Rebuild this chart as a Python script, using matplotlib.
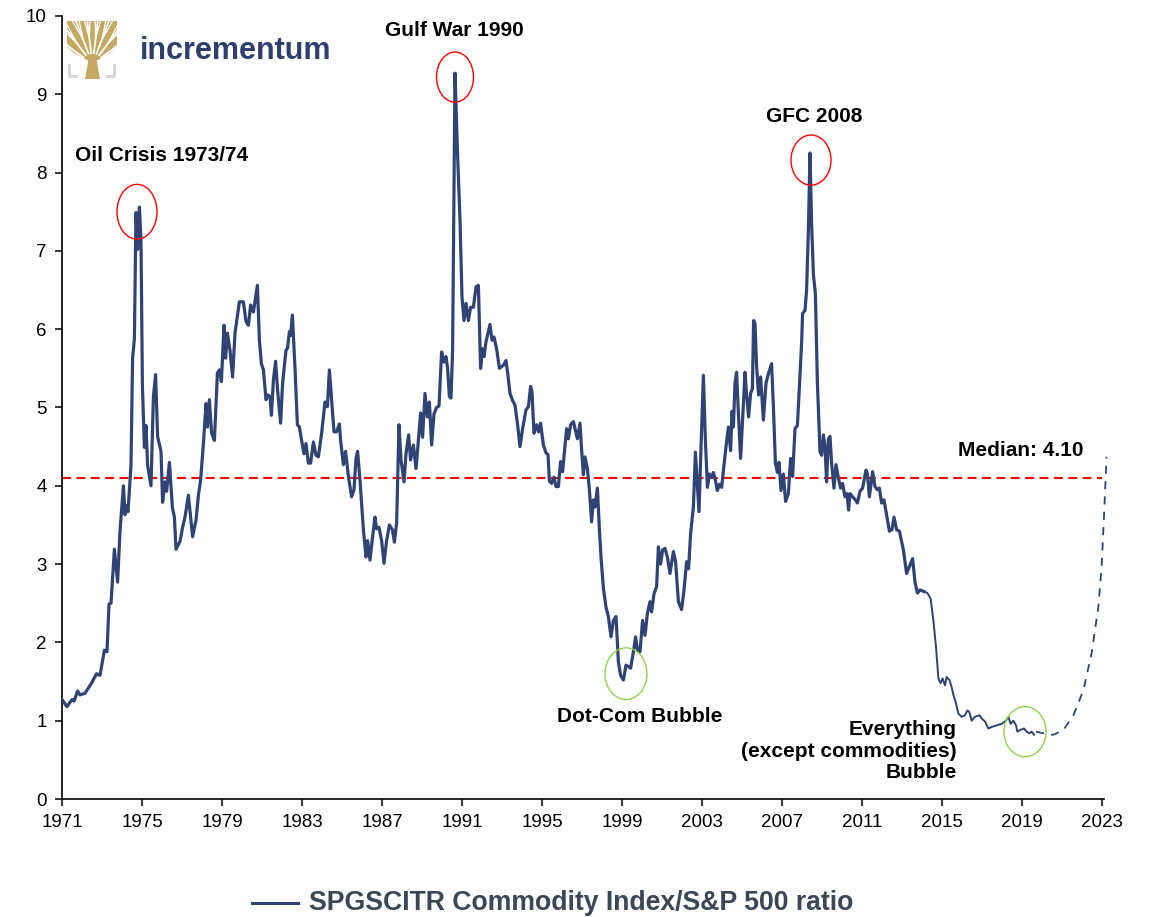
import matplotlib
matplotlib.use("Agg")
import numpy as np
import matplotlib.pyplot as plt
from matplotlib.patches import Ellipse, Polygon
from matplotlib.lines import Line2D

plt.rcParams['font.family'] = ['Liberation Sans', 'DejaVu Sans']

# SPGSCITR total return index divided by the S&P 500 (decimal years)
years = [
    1971.0, 1971.25, 1971.5, 1971.6, 1971.78, 1971.9, 1972.15, 1972.45, 1972.73, 1972.9,
    1973.12, 1973.25, 1973.35, 1973.45, 1973.62, 1973.78, 1973.9, 1974.07, 1974.15, 1974.22,
    1974.3, 1974.45, 1974.53, 1974.62, 1974.7, 1974.78, 1974.87, 1974.95, 1975.02, 1975.12,
    1975.2, 1975.28, 1975.45, 1975.57, 1975.68, 1975.78, 1975.95, 1976.03, 1976.15, 1976.23,
    1976.37, 1976.52, 1976.62, 1976.7, 1976.9, 1977.03, 1977.15, 1977.32, 1977.53, 1977.7,
    1977.82, 1977.93, 1978.07, 1978.2, 1978.27, 1978.37, 1978.48, 1978.62, 1978.77, 1978.87,
    1978.97, 1979.1, 1979.18, 1979.27, 1979.4, 1979.53, 1979.65, 1979.87, 1980.07, 1980.2,
    1980.32, 1980.43, 1980.57, 1980.77, 1980.87, 1980.97, 1981.07, 1981.2, 1981.3, 1981.4,
    1981.47, 1981.57, 1981.68, 1981.78, 1981.93, 1982.03, 1982.2, 1982.28, 1982.37, 1982.43,
    1982.52, 1982.65, 1982.77, 1982.87, 1982.98, 1983.1, 1983.2, 1983.32, 1983.43, 1983.57,
    1983.7, 1983.82, 1983.98, 1984.15, 1984.27, 1984.37, 1984.48, 1984.6, 1984.73, 1984.87,
    1984.93, 1985.07, 1985.18, 1985.32, 1985.48, 1985.6, 1985.7, 1985.78, 1985.9, 1986.07,
    1986.2, 1986.28, 1986.4, 1986.53, 1986.65, 1986.73, 1986.85, 1986.98, 1987.1, 1987.23,
    1987.37, 1987.52, 1987.62, 1987.73, 1987.85, 1987.95, 1988.1, 1988.2, 1988.33, 1988.43,
    1988.57, 1988.7, 1988.82, 1988.93, 1989.03, 1989.15, 1989.27, 1989.37, 1989.48, 1989.6,
    1989.73, 1989.85, 1989.98, 1990.1, 1990.2, 1990.28, 1990.37, 1990.45, 1990.53, 1990.65,
    1990.77, 1990.9, 1991.0, 1991.1, 1991.2, 1991.32, 1991.43, 1991.57, 1991.7, 1991.82,
    1991.93, 1992.03, 1992.1, 1992.2, 1992.4, 1992.5, 1992.6, 1992.73, 1992.87, 1993.07,
    1993.2, 1993.28, 1993.4, 1993.53, 1993.65, 1993.77, 1993.9, 1994.03, 1994.2, 1994.32,
    1994.43, 1994.5, 1994.6, 1994.73, 1994.83, 1994.93, 1995.07, 1995.2, 1995.3, 1995.37,
    1995.48, 1995.6, 1995.7, 1995.82, 1995.93, 1996.03, 1996.23, 1996.32, 1996.43, 1996.57,
    1996.65, 1996.77, 1996.9, 1996.98, 1997.07, 1997.15, 1997.27, 1997.37, 1997.48, 1997.57,
    1997.65, 1997.77, 1997.87, 1997.95, 1998.07, 1998.2, 1998.32, 1998.45, 1998.57, 1998.7,
    1998.82, 1998.93, 1999.07, 1999.2, 1999.33, 1999.43, 1999.57, 1999.68, 1999.78, 1999.9,
    2000.03, 2000.15, 2000.27, 2000.4, 2000.48, 2000.6, 2000.73, 2000.82, 2000.93, 2001.03,
    2001.15, 2001.27, 2001.4, 2001.57, 2001.68, 2001.82, 2001.98, 2002.1, 2002.23, 2002.33,
    2002.43, 2002.57, 2002.67, 2002.77, 2002.85, 2002.93, 2003.07, 2003.17, 2003.27, 2003.37,
    2003.48, 2003.57, 2003.67, 2003.77, 2003.87, 2003.98, 2004.1, 2004.2, 2004.32, 2004.43,
    2004.5, 2004.57, 2004.65, 2004.73, 2004.82, 2004.93, 2005.03, 2005.15, 2005.23, 2005.33,
    2005.43, 2005.52, 2005.58, 2005.65, 2005.73, 2005.83, 2005.93, 2006.07, 2006.2, 2006.32,
    2006.48, 2006.57, 2006.67, 2006.77, 2006.85, 2006.95, 2007.07, 2007.18, 2007.32, 2007.43,
    2007.53, 2007.65, 2007.77, 2007.87, 2007.98, 2008.03, 2008.15, 2008.23, 2008.32, 2008.4,
    2008.48, 2008.57, 2008.67, 2008.77, 2008.9, 2008.98, 2009.07, 2009.15, 2009.23, 2009.32,
    2009.4, 2009.48, 2009.6, 2009.7, 2009.82, 2009.93, 2010.03, 2010.15, 2010.25, 2010.33,
    2010.4, 2010.53, 2010.67, 2010.77, 2010.9, 2011.03, 2011.2, 2011.27, 2011.37, 2011.53,
    2011.65, 2011.77, 2011.87, 2011.98, 2012.1, 2012.23, 2012.37, 2012.5, 2012.6, 2012.73,
    2012.87, 2013.07, 2013.23, 2013.37, 2013.53, 2013.65, 2013.77, 2013.9, 2014.1,
]
ratio = [
    1.27, 1.18, 1.27, 1.25, 1.38, 1.33, 1.35, 1.47, 1.60, 1.58,
    1.90, 1.88, 2.49, 2.50, 3.19, 2.77, 3.42, 4.00, 3.63, 3.75,
    3.67, 4.26, 5.63, 5.88, 7.49, 7.02, 7.56, 7.14, 5.28, 4.49,
    4.77, 4.26, 4.00, 5.14, 5.42, 4.63, 4.44, 3.79, 4.05, 3.93,
    4.30, 3.72, 3.60, 3.19, 3.29, 3.47, 3.60, 3.88, 3.35, 3.56,
    3.88, 4.07, 4.54, 5.05, 4.75, 5.10, 4.67, 4.58, 5.44, 5.48,
    5.33, 6.05, 5.63, 5.95, 5.73, 5.39, 5.95, 6.35, 6.35, 6.10,
    6.05, 6.31, 6.22, 6.56, 5.86, 5.56, 5.48, 5.10, 5.16, 5.14,
    4.90, 5.35, 5.59, 5.22, 4.80, 5.31, 5.73, 5.76, 5.97, 5.92,
    6.18, 5.50, 4.78, 4.75, 4.58, 4.41, 4.54, 4.29, 4.29, 4.56,
    4.39, 4.37, 4.67, 5.07, 5.01, 5.48, 5.10, 4.69, 4.69, 4.79,
    4.58, 4.27, 4.44, 4.12, 3.86, 3.95, 4.35, 4.44, 4.07, 3.44,
    3.09, 3.30, 3.05, 3.35, 3.60, 3.45, 3.47, 3.30, 3.01, 3.30,
    3.50, 3.44, 3.28, 3.52, 4.78, 4.33, 4.05, 4.41, 4.65, 4.33,
    4.52, 4.22, 4.58, 4.93, 4.62, 5.18, 4.88, 5.07, 4.52, 4.92,
    5.00, 5.02, 5.71, 5.58, 5.65, 5.50, 5.14, 5.12, 5.73, 9.27,
    8.29, 7.40, 6.41, 6.11, 6.33, 6.11, 6.28, 6.28, 6.54, 6.56,
    5.50, 5.75, 5.65, 5.84, 6.06, 5.86, 5.90, 5.75, 5.50, 5.54,
    5.60, 5.45, 5.18, 5.09, 5.03, 4.80, 4.50, 4.73, 4.97, 5.01,
    5.27, 5.20, 4.67, 4.78, 4.69, 4.80, 4.52, 4.42, 4.40, 4.06,
    4.03, 4.11, 3.99, 3.99, 4.31, 4.18, 4.73, 4.60, 4.78, 4.82,
    4.73, 4.60, 4.80, 4.46, 4.14, 4.37, 4.22, 3.95, 3.54, 3.82,
    3.73, 3.97, 3.44, 3.09, 2.69, 2.45, 2.33, 2.07, 2.28, 2.33,
    1.75, 1.58, 1.52, 1.71, 1.69, 1.67, 1.88, 2.07, 1.90, 1.88,
    2.28, 2.09, 2.37, 2.52, 2.39, 2.62, 2.71, 3.22, 3.00, 3.18,
    3.20, 3.09, 2.88, 3.16, 3.03, 2.52, 2.42, 2.67, 3.03, 2.94,
    3.39, 3.73, 4.43, 4.00, 3.67, 4.33, 5.41, 4.58, 3.98, 4.15,
    4.11, 4.17, 4.07, 3.94, 4.02, 3.98, 4.26, 4.50, 4.75, 4.45,
    4.95, 4.75, 5.31, 5.45, 4.92, 4.35, 4.84, 5.45, 5.16, 4.88,
    5.18, 5.24, 6.11, 6.07, 5.52, 5.16, 5.39, 4.84, 5.31, 5.43,
    5.56, 5.01, 4.29, 4.17, 4.30, 3.94, 4.15, 3.80, 3.90, 4.35,
    4.12, 4.73, 4.77, 5.26, 5.82, 6.20, 6.24, 6.50, 7.27, 8.25,
    7.35, 6.70, 6.45, 5.31, 4.44, 4.39, 4.65, 4.50, 4.05, 4.60,
    4.63, 4.29, 3.97, 4.27, 4.10, 3.97, 4.03, 3.86, 3.90, 3.69,
    3.90, 3.86, 3.82, 3.78, 3.93, 3.97, 4.20, 4.15, 3.86, 4.18,
    3.99, 3.95, 3.97, 3.78, 3.82, 3.63, 3.42, 3.44, 3.60, 3.44,
    3.42, 3.18, 2.88, 2.97, 3.07, 2.77, 2.63, 2.67, 2.65,
]

# Weekly tail of the same ratio
recent_years = [
    2014.1, 2014.27, 2014.43, 2014.57, 2014.7, 2014.82, 2014.93, 2015.03, 2015.15, 2015.23,
    2015.37, 2015.48, 2015.57, 2015.7, 2015.82, 2015.98, 2016.15, 2016.27, 2016.37, 2016.48,
    2016.65, 2016.87, 2016.98, 2017.15, 2017.32, 2017.48, 2017.73, 2017.98, 2018.2, 2018.32,
    2018.43, 2018.57, 2018.7, 2018.77, 2018.9, 2019.1, 2019.23, 2019.37, 2019.48, 2019.6,
]
recent_ratio = [
    2.65, 2.63, 2.56, 2.28, 1.94, 1.54, 1.48, 1.54, 1.45, 1.56,
    1.52, 1.43, 1.33, 1.22, 1.09, 1.05, 1.07, 1.13, 1.11, 1.00,
    1.05, 1.07, 1.03, 0.99, 0.90, 0.92, 0.94, 0.96, 1.00, 1.05,
    0.96, 1.00, 0.94, 0.86, 0.88, 0.90, 0.86, 0.84, 0.86, 0.82,
]

# Hand-drawn scenario path back towards the median
path_years = [2019.7, 2020.23, 2020.57, 2021.07, 2021.57, 2022.07, 2022.48, 2022.82, 2022.98, 2023.1, 2023.23]
path_ratio = [0.86, 0.83, 0.82, 0.88, 1.07, 1.39, 1.86, 2.46, 2.97, 3.61, 4.37]

median_value = 4.10
x_ticks = list(range(1971, 2024, 4))
y_ticks = list(range(0, 11))

navy = "#2F4374"

fig = plt.figure(figsize=(11.5, 9.17), dpi=100)
ax = fig.add_axes([62 / 1150, 1 - 799 / 917, 1042 / 1150, 783 / 917])

ax.plot(years, ratio, color=navy, lw=2.3, solid_joinstyle="round", zorder=3)
ax.plot(recent_years, recent_ratio, color=navy, lw=1.4, solid_joinstyle="round", zorder=3)
ax.plot(path_years, path_ratio, color=navy, lw=1.3, dashes=(4.5, 4.0), clip_on=False, zorder=3)

ax.axhline(median_value, xmin=0, xmax=0.998, color="#FF0000", lw=1.5, dashes=(4.3, 2.6), zorder=2)

ax.set_xlim(1971, 2023.1)
ax.set_ylim(0, 10)
ax.set_xticks(x_ticks)
ax.set_yticks(y_ticks)
ax.tick_params(axis="both", direction="out", length=5, width=1.1, labelsize=13.5, pad=6, colors="black")
for side in ("top", "right"):
    ax.spines[side].set_visible(False)
for side in ("left", "bottom"):
    ax.spines[side].set_linewidth(1.2)
    ax.spines[side].set_color("black")

# Highlighted episodes
red_marks = [(1974.75, 7.50, 2.0, 0.70), (1990.65, 9.22, 1.85, 0.64), (2008.45, 8.16, 2.0, 0.64)]
green_marks = [(1999.2, 1.60, 2.1, 0.66), (2019.15, 0.86, 2.1, 0.64)]
for cx, cy, w, h in red_marks:
    ax.add_patch(Ellipse((cx, cy), w, h, fill=False, edgecolor="#FF0000", lw=1.0, zorder=4, clip_on=False))
for cx, cy, w, h in green_marks:
    ax.add_patch(Ellipse((cx, cy), w, h, fill=False, edgecolor="#92D050", lw=1.0, zorder=4, clip_on=False))

label_kw = dict(fontsize=15, fontweight="bold", color="black")
ax.text(1971.65, 8.22, "Oil Crisis 1973/74", ha="left", va="center", **label_kw)
ax.text(1990.6, 9.82, "Gulf War 1990", ha="center", va="center", **label_kw)
ax.text(2008.6, 8.72, "GFC 2008", ha="center", va="center", **label_kw)
ax.text(1999.9, 1.05, "Dot-Com Bubble", ha="center", va="center", **label_kw)
ax.text(2015.75, 0.61, "Everything\n(except commodities)\nBubble", ha="right", va="center",
        multialignment="right", linespacing=1.15, **label_kw)
ax.text(2022.05, 4.45, f"Median: {median_value:.2f}", ha="right", va="center", **label_kw)

# Legend row under the chart
fig.add_artist(Line2D([252 / 1150, 298 / 1150], [1 - 903 / 917, 1 - 903 / 917],
                      color=navy, lw=2.2, transform=fig.transFigure))
fig.text(309 / 1150, 1 - 903 / 917, "SPGSCITR Commodity Index/S&P 500 ratio",
         ha="left", va="center", fontsize=19.2, fontweight="bold", color="#3B4657")

# Brand mark: tree emblem and wordmark
gold = "#C5A862"
grey = "#D6D6D6"
lg = fig.add_axes([66 / 1150, 1 - 80 / 917, 52 / 1150, 60 / 917])
lg.set_xlim(0, 52)
lg.set_ylim(60, 0)
lg.axis("off")
lg.add_patch(Polygon([[2, 44], [5, 44], [5, 55], [12, 55], [12, 58], [2, 58]], closed=True, color=grey, lw=0))
lg.add_patch(Polygon([[50, 44], [47, 44], [47, 55], [40, 55], [40, 58], [50, 58]], closed=True, color=grey, lw=0))
crown = Polygon([[1, 1], [51, 1], [51, 27], [44, 33], [32, 40], [21, 40], [8, 33], [1, 27]],
                closed=True, color=gold, lw=0)
lg.add_patch(crown)
lg.add_patch(Polygon([[19, 59], [34, 59], [31, 42], [30, 36], [23, 36], [22, 42]], closed=True, color=gold, lw=0))
# white gaps separating the branches
ox, oy = 26.5, 44.0
for ang in (-72, -54, -37, -21, -7, 7, 21, 37, 54, 72):
    a = np.radians(ang)
    r0, r1 = 11.0, 60.0
    gap, = lg.plot([ox + r0 * np.sin(a), ox + r1 * np.sin(a)],
                   [oy - r0 * np.cos(a), oy - r1 * np.cos(a)], color="white", lw=1.3)
    gap.set_clip_path(crown)
    for side in (-1, 1):
        b = a + side * np.radians(9)
        r2 = 26.0
        sx, sy = ox + r2 * np.sin(a), oy - r2 * np.cos(a)
        fork, = lg.plot([sx, sx + 30 * np.sin(b)], [sy, sy - 30 * np.cos(b)], color="white", lw=0.9)
        fork.set_clip_path(crown)

fig.text(140 / 1150, 1 - 51 / 917, "incrementum", ha="left", va="center",
         fontsize=22, fontweight="bold", color="#2E3F6E")

fig.savefig("out.png", dpi=100)
